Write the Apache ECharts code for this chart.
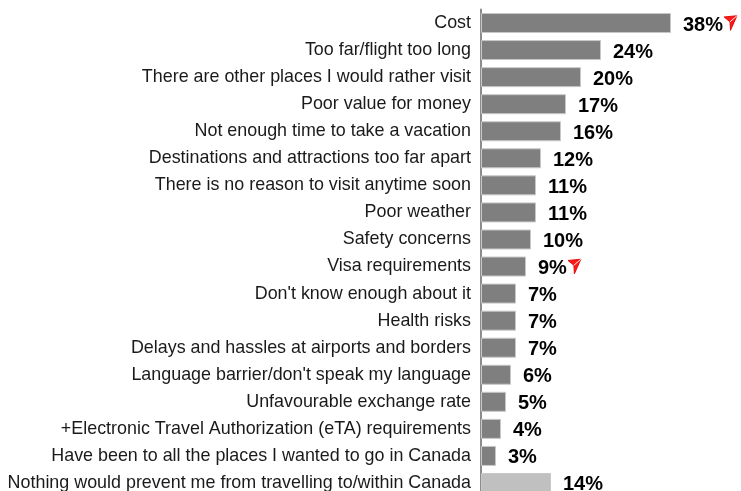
<!DOCTYPE html>
<html lang="en">
<head>
    <meta charset="UTF-8">
    <title>Barriers to visiting Canada</title>
    <script src="https://cdn.jsdelivr.net/npm/echarts@6.0.0/dist/echarts.min.js"></script>
    <style>
        html, body { margin: 0; padding: 0; background: #fff; }
        #chartContainer { width: 741px; height: 491px; }
    </style>
</head>
<body>
    <div id="chartContainer"></div>
    <script>
        const categories = [
            'Cost',
            'Too far/flight too long',
            'There are other places I would rather visit',
            'Poor value for money',
            'Not enough time to take a vacation',
            'Destinations and attractions too far apart',
            'There is no reason to visit anytime soon',
            'Poor weather',
            'Safety concerns',
            'Visa requirements',
            "Don't know enough about it",
            'Health risks',
            'Delays and hassles at airports and borders',
            "Language barrier/don't speak my language",
            'Unfavourable exchange rate',
            '+Electronic Travel Authorization (eTA) requirements',
            'Have been to all the places I wanted to go in Canada',
            'Nothing would prevent me from travelling to/within Canada'
        ];
        const values = [38, 24, 20, 17, 16, 12, 11, 11, 10, 9, 7, 7, 7, 6, 5, 4, 3, 14];
        // rows flagged with the red arrow
        const flagged = ['Cost', 'Visa requirements'];
        // the "nothing" row is drawn lighter
        const lightRows = ['Nothing would prevent me from travelling to/within Canada'];

        const arrowSvg = 'data:image/svg+xml;charset=utf-8,' + encodeURIComponent(
            '<svg xmlns="http://www.w3.org/2000/svg" width="14" height="14" viewBox="0 0 14 14">' +
            '<path d="M1 2 L13 1 L7 13 L6.5 6 Z" fill="#ff1a1a" stroke="#e00000" stroke-width="0.8"/>' +
            '<path d="M6.5 6 L13 1" stroke="#ffffff" stroke-width="0.8"/>' +
            '</svg>'
        );

        const chart = echarts.init(document.getElementById('chartContainer'));

        const option = {
            animation: false,
            grid: {
                left: 481,
                width: 250,
                top: 9.5,
                height: 487,
                containLabel: false,
                outerBoundsMode: 'none'
            },
            xAxis: {
                type: 'value',
                min: 0,
                max: 50,
                show: false
            },
            yAxis: {
                type: 'category',
                data: categories,
                inverse: true,
                axisLine: { show: true, lineStyle: { color: '#8c8c8c', width: 2 } },
                axisTick: { show: false },
                axisLabel: {
                    color: '#1a1a1a',
                    fontFamily: 'Liberation Sans, Arial, sans-serif',
                    fontSize: 17.9,
                    margin: 10,
                    padding: [0, 0, 3, 0]
                }
            },
            series: [{
                type: 'bar',
                barWidth: 20,
                data: values.map((v, i) => ({
                    value: v,
                    itemStyle: {
                        color: lightRows.includes(categories[i]) ? '#c0c0c0' : '#7f7f7f'
                    }
                })),
                itemStyle: {
                    borderColor: '#c8c8c8',
                    borderWidth: 1
                },
                label: {
                    show: true,
                    position: 'right',
                    distance: 12,
                    formatter: p => flagged.includes(p.name)
                        ? '{v|' + p.value + '%}{a|}'
                        : '{v|' + p.value + '%}',
                    rich: {
                        v: {
                            color: '#000',
                            fontFamily: 'Liberation Sans, Arial, sans-serif',
                            fontWeight: 'bold',
                            fontSize: 20,
                            padding: [4, 0, 0, 0]
                        },
                        a: {
                            width: 13,
                            height: 13,
                            padding: [0, 0, 4, 2],
                            backgroundColor: { image: arrowSvg }
                        }
                    }
                }
            }]
        };

        chart.setOption(option);
    </script>
</body>
</html>
